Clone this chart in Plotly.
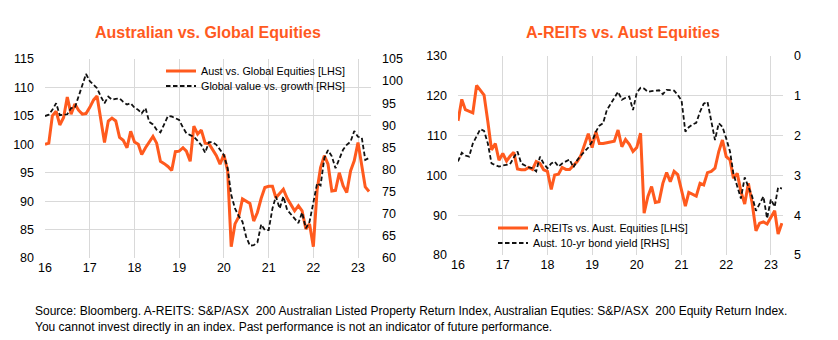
import plotly.graph_objects as go
import pandas as pd

dates = pd.date_range("2016-01-01", periods=88, freq="MS")

aus_vs_global = [100.0, 100.2, 105.0, 105.8, 103.4, 104.7, 108.3, 105.3, 107.1, 106.0,
                 105.3, 105.4, 106.5, 107.8, 108.5, 104.5, 100.3, 104.1, 104.6, 104.1,
                 101.2, 100.7, 99.4, 102.3, 100.4, 100.0, 98.2, 99.4, 100.5, 101.4,
                 100.2, 97.0, 96.6, 96.1, 95.4, 98.7, 98.8, 99.4, 98.8, 97.0,
                 103.2, 101.8, 102.5, 100.2, 100.1, 99.0, 98.0, 96.5, 98.2, 95.3,
                 82.0, 86.0, 87.2, 90.4, 90.0, 89.6, 86.5, 88.0, 90.5, 92.4,
                 92.6, 92.6, 90.6, 91.3, 92.1, 90.5, 89.3, 88.3, 89.2, 88.3,
                 85.1, 86.0, 82.0, 92.0, 95.9, 98.0, 96.5, 91.8, 91.9, 95.0,
                 92.7, 91.5, 95.3, 97.1, 100.3, 96.5, 92.5, 91.7]

value_vs_growth = [92.1, 92.4, 93.5, 95.0, 92.3, 92.4, 92.5, 93.9, 94.0, 96.5,
                   99.0, 101.6, 100.0, 99.2, 98.4, 96.5, 95.0, 96.5, 95.8, 96.0,
                   96.1, 95.3, 94.7, 95.0, 94.0, 93.5, 92.7, 93.9, 90.8, 90.2,
                   89.0, 88.4, 90.4, 92.1, 92.0, 91.6, 91.2, 89.5, 88.2, 87.8,
                   87.4, 86.5, 85.5, 83.8, 86.2, 86.2, 85.6, 84.5, 83.3, 80.3,
                   74.3, 71.2, 69.5, 68.2, 64.8, 62.8, 62.9, 63.5, 67.6, 66.3,
                   66.3, 71.2, 73.9, 71.2, 73.9, 70.9, 70.0, 69.0, 67.9, 70.3,
                   66.7, 68.2, 73.0, 76.9, 76.4, 82.6, 84.4, 83.0, 80.3, 82.6,
                   84.5, 85.6, 86.3, 88.7, 87.4, 87.2, 82.2, 82.6]

areits_vs_aus = [113.7, 119.1, 116.5, 116.0, 115.7, 122.6, 121.5, 120.2, 113.5, 106.4,
                 108.0, 103.8, 105.5, 103.6, 104.8, 105.8, 101.6, 101.4, 101.4, 102.0,
                 101.5, 103.5, 103.0, 101.4, 101.0, 96.5, 100.1, 100.3, 102.0, 101.5,
                 101.5, 102.6, 103.5, 105.0, 108.0, 110.5, 107.0, 111.0, 108.0, 108.0,
                 108.2, 108.4, 108.6, 111.4, 107.2, 109.0, 107.8, 106.0, 107.0, 110.6,
                 90.5, 94.7, 97.2, 93.2, 93.4, 98.0, 100.7, 98.4, 101.0, 100.2,
                 96.3, 92.3, 95.7, 95.3, 94.8, 98.0, 97.6, 100.7, 101.0, 101.8,
                 106.0, 108.9, 104.7, 103.9, 99.3, 100.5, 96.0, 92.8, 98.0, 93.0,
                 86.1, 88.0, 88.3, 87.8, 89.5, 91.1, 85.3, 88.0]

bond_yield = [2.65, 2.43, 2.50, 2.53, 2.20, 2.00, 1.84, 1.88, 2.20, 2.70,
              2.75, 2.78, 2.75, 2.74, 2.72, 2.55, 2.40, 2.70, 2.75, 2.80,
              2.82, 2.90, 2.53, 2.70, 2.82, 2.70, 2.65, 2.78, 2.70, 2.65,
              2.60, 2.80, 2.62, 2.50, 2.40, 2.30, 2.15, 1.90, 1.75, 1.69,
              1.36, 1.20, 1.06, 0.90, 1.10, 1.05, 1.02, 1.36, 0.92, 0.80,
              0.82, 0.90, 0.88, 0.87, 0.86, 0.96, 0.85, 0.86, 0.87, 0.98,
              1.12, 1.90, 1.79, 1.72, 1.68, 1.40, 1.20, 1.15, 1.60, 2.11,
              1.69, 1.78, 2.07, 2.40, 2.96, 3.25, 3.58, 3.05, 3.30, 3.53,
              3.89, 3.72, 3.53, 4.08, 3.60, 3.79, 3.30, 3.33]

title_left = "Australian vs. Global Equities"
title_right = "A-REITs vs. Aust Equities"
footer = ("Source: Bloomberg. A-REITS: S&P/ASX  200 Australian Listed Property Return Index, "
          "Australian Equties: S&P/ASX  200 Equity Return Index.<br>"
          "You cannot invest directly in an index. Past performance is not an indicator of future performance.")

ORANGE = "#FF5A1E"
GRID = "#D9D9D9"
FONT = "Liberation Sans, Arial, sans-serif"
W, H = 838, 340

def px_x(p):
    return p / W

def px_y(p):
    return 1 - p / H

DASH = dict(color="#111111", width=1.8, dash="4.5px,2.5px")

fig = go.Figure()
fig.add_trace(go.Scatter(x=dates, y=aus_vs_global, name="Aust vs. Global Equities [LHS]",
                         mode="lines", line=dict(color=ORANGE, width=3),
                         xaxis="x", yaxis="y", legend="legend"))
fig.add_trace(go.Scatter(x=dates, y=value_vs_growth, name="Global value vs. growth [RHS]",
                         mode="lines", line=DASH,
                         xaxis="x", yaxis="y2", legend="legend2"))
fig.add_trace(go.Scatter(x=dates, y=areits_vs_aus, name="A-REITs vs. Aust. Equities [LHS]",
                         mode="lines", line=dict(color=ORANGE, width=3),
                         xaxis="x2", yaxis="y3", legend="legend3"))
fig.add_trace(go.Scatter(x=dates, y=bond_yield, name="Aust. 10-yr bond yield [RHS]",
                         mode="lines", line=DASH,
                         xaxis="x2", yaxis="y4", legend="legend4"))

tickfont = dict(family=FONT, size=12.5, color="#000000")
xcommon = dict(type="date", showgrid=True, gridcolor=GRID, gridwidth=1, tickformat="%y",
               dtick="M12", tick0="2016-01-01", ticks="", showline=False, zeroline=False,
               tickfont=tickfont, automargin=False)
ycommon = dict(showgrid=True, gridcolor=GRID, gridwidth=1, ticks="", showline=False,
               zeroline=False, tickfont=tickfont, automargin=False, ticklabelstandoff=10)

def leg(xp, yp):
    return dict(x=px_x(xp), y=px_y(yp), xanchor="left", yanchor="middle",
                bgcolor="rgba(0,0,0,0)", font=dict(family=FONT, size=10.8, color="#000000"),
                itemwidth=30)

fig.update_layout(
    width=W, height=H,
    margin=dict(l=0, r=0, t=0, b=0),
    paper_bgcolor="white", plot_bgcolor="white",
    font=dict(family=FONT, color="#000000"),
    xaxis=dict(xcommon, domain=[px_x(45), px_x(371)], anchor="y",
               range=["2016-01-01", "2023-04-17"]),
    yaxis=dict(ycommon, domain=[px_y(258), px_y(59)], anchor="x", range=[80, 115], dtick=5),
    yaxis2=dict(ycommon, showgrid=False, overlaying="y", side="right", anchor="x",
                range=[60, 105], dtick=5),
    xaxis2=dict(xcommon, domain=[px_x(458), px_x(783)], anchor="y3",
                range=["2016-01-01", "2023-04-10"]),
    yaxis3=dict(ycommon, domain=[px_y(255), px_y(56)], anchor="x2", range=[80, 130], dtick=10),
    yaxis4=dict(ycommon, showgrid=False, overlaying="y3", side="right", anchor="x2",
                range=[5, 0], dtick=1),
    legend=leg(161, 71),
    legend2=leg(161, 86),
    legend3=leg(493, 228),
    legend4=leg(493, 243),
    showlegend=True,
    annotations=[
        dict(text="<b>" + title_left + "</b>", x=px_x(208), y=px_y(33), xref="paper", yref="paper",
             showarrow=False, xanchor="center", yanchor="middle",
             font=dict(family=FONT, size=16, color=ORANGE)),
        dict(text="<b>" + title_right + "</b>", x=px_x(623), y=px_y(32), xref="paper", yref="paper",
             showarrow=False, xanchor="center", yanchor="middle",
             font=dict(family=FONT, size=16, color=ORANGE)),
        dict(text=footer, x=px_x(33), y=px_y(319), xref="paper", yref="paper",
             showarrow=False, xanchor="left", yanchor="middle", align="left",
             font=dict(family=FONT, size=12, color="#000000")),
    ],
)

fig.write_html("out.html")
